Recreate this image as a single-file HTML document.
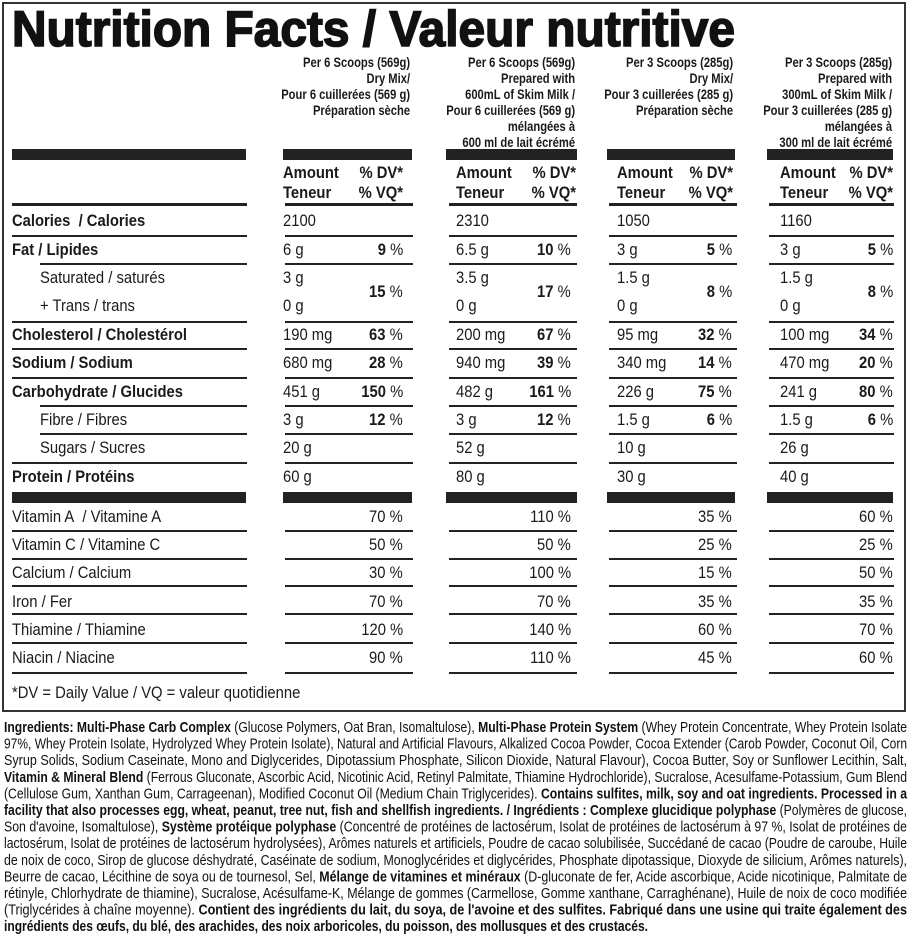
<!DOCTYPE html>
<html><head><meta charset="utf-8"><style>
html,body{margin:0;padding:0;background:#fff}
body{width:910px;height:946px;position:relative;overflow:hidden;font-family:"Liberation Sans",sans-serif;color:#1a1a1a}
.a,.v{position:absolute;white-space:nowrap;font-size:17px;line-height:20px;transform:scaleX(.87)}
.a{transform-origin:0 0}
.v{transform-origin:100% 0;text-align:right}
.b{font-weight:bold}
.s{font-size:14px;line-height:16px;font-weight:bold;transform:scaleX(.8)}
.h{position:absolute;height:2px;background:#222}
.k{position:absolute;height:11px;background:#222}
.w{position:absolute;height:3px;background:#222}
</style></head><body>
<div style="position:absolute;left:2px;top:2px;width:900px;height:706px;border:2px solid #333"></div>
<svg width="910" height="946" style="position:absolute;left:0;top:0">
<text x="12" y="46" font-family="Liberation Sans" font-weight="bold" font-size="50" textLength="723" lengthAdjust="spacingAndGlyphs" fill="#111" stroke="#111" stroke-width="1.6">Nutrition Facts / Valeur nutritive</text>
<g font-family="Liberation Sans" font-size="15" fill="#111">
<text x="4" y="732" textLength="903" lengthAdjust="spacingAndGlyphs"><tspan font-weight="bold">Ingredients: Multi-Phase Carb Complex</tspan> (Glucose Polymers, Oat Bran, Isomaltulose), <tspan font-weight="bold">Multi-Phase Protein System</tspan> (Whey Protein Concentrate, Whey Protein Isolate</text>
<text x="4" y="748.6" textLength="903" lengthAdjust="spacingAndGlyphs">97%, Whey Protein Isolate, Hydrolyzed Whey Protein Isolate), Natural and Artificial Flavours, Alkalized Cocoa Powder, Cocoa Extender (Carob Powder, Coconut Oil, Corn</text>
<text x="4" y="765.2" textLength="903" lengthAdjust="spacingAndGlyphs">Syrup Solids, Sodium Caseinate, Mono and Diglycerides, Dipotassium Phosphate, Silicon Dioxide, Natural Flavour), Cocoa Butter, Soy or Sunflower Lecithin, Salt,</text>
<text x="4" y="781.8" textLength="903" lengthAdjust="spacingAndGlyphs"><tspan font-weight="bold">Vitamin &amp; Mineral Blend</tspan> (Ferrous Gluconate, Ascorbic Acid, Nicotinic Acid, Retinyl Palmitate, Thiamine Hydrochloride), Sucralose, Acesulfame-Potassium, Gum Blend</text>
<text x="4" y="798.4" textLength="903" lengthAdjust="spacingAndGlyphs">(Cellulose Gum, Xanthan Gum, Carrageenan), Modified Coconut Oil (Medium Chain Triglycerides). <tspan font-weight="bold">Contains sulfites, milk, soy and oat ingredients. Processed in a</tspan></text>
<text x="4" y="815" textLength="903" lengthAdjust="spacingAndGlyphs"><tspan font-weight="bold">facility that also processes egg, wheat, peanut, tree nut, fish and shellfish ingredients. / Ingrédients : Complexe glucidique polyphase</tspan> (Polymères de glucose,</text>
<text x="4" y="831.6" textLength="903" lengthAdjust="spacingAndGlyphs">Son d'avoine, Isomaltulose), <tspan font-weight="bold">Système protéique polyphase</tspan> (Concentré de protéines de lactosérum, Isolat de protéines de lactosérum à 97 %, Isolat de protéines de</text>
<text x="4" y="848.2" textLength="903" lengthAdjust="spacingAndGlyphs">lactosérum, Isolat de protéines de lactosérum hydrolysées), Arômes naturels et artificiels, Poudre de cacao solubilisée, Succédané de cacao (Poudre de caroube, Huile</text>
<text x="4" y="864.8" textLength="903" lengthAdjust="spacingAndGlyphs">de noix de coco, Sirop de glucose déshydraté, Caséinate de sodium, Monoglycérides et diglycérides, Phosphate dipotassique, Dioxyde de silicium, Arômes naturels),</text>
<text x="4" y="881.4" textLength="903" lengthAdjust="spacingAndGlyphs">Beurre de cacao, Lécithine de soya ou de tournesol, Sel, <tspan font-weight="bold">Mélange de vitamines et minéraux</tspan> (D-gluconate de fer, Acide ascorbique, Acide nicotinique, Palmitate de</text>
<text x="4" y="898" textLength="903" lengthAdjust="spacingAndGlyphs">rétinyle, Chlorhydrate de thiamine), Sucralose, Acésulfame-K, Mélange de gommes (Carmellose, Gomme xanthane, Carraghénane), Huile de noix de coco modifiée</text>
<text x="4" y="914.6" textLength="903" lengthAdjust="spacingAndGlyphs">(Triglycérides à chaîne moyenne). <tspan font-weight="bold">Contient des ingrédients du lait, du soya, de l'avoine et des sulfites. Fabriqué dans une usine qui traite également des</tspan></text>
<text x="4" y="931.2" textLength="644" lengthAdjust="spacingAndGlyphs" font-weight="bold">ingrédients des œufs, du blé, des arachides, des noix arboricoles, du poisson, des mollusques et des crustacés.</text>
</g>
</svg>

<div class="v s" style="right:500px;top:54px">Per 6 Scoops (569g)<br>Dry Mix/<br>Pour 6 cuillerées (569 g)<br>Préparation sèche</div>
<div class="v s" style="right:335px;top:54px">Per 6 Scoops (569g)<br>Prepared with<br>600mL of Skim Milk /<br>Pour 6 cuillerées (569 g)<br>mélangées à<br>600 ml de lait écrémé</div>
<div class="v s" style="right:177px;top:54px">Per 3 Scoops (285g)<br>Dry Mix/<br>Pour 3 cuillerées (285 g)<br>Préparation sèche</div>
<div class="v s" style="right:18px;top:54px">Per 3 Scoops (285g)<br>Prepared with<br>300mL of Skim Milk /<br>Pour 3 cuillerées (285 g)<br>mélangées à<br>300 ml de lait écrémé</div>

<div class="k" style="left:12px;width:234px;top:149px"></div>
<div class="k" style="left:283px;width:129px;top:149px"></div>
<div class="k" style="left:446px;width:131px;top:149px"></div>
<div class="k" style="left:607px;width:128px;top:149px"></div>
<div class="k" style="left:767px;width:126px;top:149px"></div>
<div class="k" style="left:12px;width:234px;top:492px"></div>
<div class="k" style="left:283px;width:129px;top:492px"></div>
<div class="k" style="left:446px;width:131px;top:492px"></div>
<div class="k" style="left:607px;width:128px;top:492px"></div>
<div class="k" style="left:767px;width:126px;top:492px"></div>

<div class="a b" style="left:283px;top:163px">Amount<br>Teneur</div>
<div class="v b" style="right:507px;top:163px">% DV*<br>% VQ*</div>
<div class="a b" style="left:456px;top:163px">Amount<br>Teneur</div>
<div class="v b" style="right:334px;top:163px">% DV*<br>% VQ*</div>
<div class="a b" style="left:617px;top:163px">Amount<br>Teneur</div>
<div class="v b" style="right:177px;top:163px">% DV*<br>% VQ*</div>
<div class="a b" style="left:780px;top:163px">Amount<br>Teneur</div>
<div class="v b" style="right:17px;top:163px">% DV*<br>% VQ*</div>
<div class="w" style="left:12px;width:235px;top:203px"></div>
<div class="w" style="left:285px;width:128px;top:203px"></div>
<div class="w" style="left:449px;width:128px;top:203px"></div>
<div class="w" style="left:609px;width:128px;top:203px"></div>
<div class="w" style="left:769px;width:125px;top:203px"></div>

<div class="a b" style="left:12px;top:211px">Calories&nbsp; / Calories</div>
<div class="a b" style="left:12px;top:240px">Fat / Lipides</div>
<div class="a" style="left:40px;top:268px">Saturated / saturés</div>
<div class="a" style="left:40px;top:296px">+ Trans / trans</div>
<div class="a b" style="left:12px;top:325px">Cholesterol / Cholestérol</div>
<div class="a b" style="left:12px;top:353px">Sodium / Sodium</div>
<div class="a b" style="left:12px;top:382px">Carbohydrate / Glucides</div>
<div class="a" style="left:40px;top:410px">Fibre / Fibres</div>
<div class="a" style="left:40px;top:438px">Sugars / Sucres</div>
<div class="a b" style="left:12px;top:467px">Protein / Protéins</div>
<div class="a" style="left:12px;top:507px">Vitamin A&nbsp; / Vitamine A</div>
<div class="a" style="left:12px;top:535px">Vitamin C / Vitamine C</div>
<div class="a" style="left:12px;top:563px">Calcium / Calcium</div>
<div class="a" style="left:12px;top:592px">Iron / Fer</div>
<div class="a" style="left:12px;top:620px">Thiamine / Thiamine</div>
<div class="a" style="left:12px;top:648px">Niacin / Niacine</div>
<div class="a" style="left:12px;top:683px">*DV = Daily Value / VQ = valeur quotidienne</div>

<div class="h" style="left:12px;width:235px;top:235px"></div>
<div class="h" style="left:40px;width:207px;top:263px"></div>
<div class="h" style="left:12px;width:235px;top:321px"></div>
<div class="h" style="left:12px;width:235px;top:348px"></div>
<div class="h" style="left:12px;width:235px;top:377px"></div>
<div class="h" style="left:40px;width:207px;top:405px"></div>
<div class="h" style="left:40px;width:207px;top:433px"></div>
<div class="h" style="left:12px;width:235px;top:462px"></div>
<div class="h" style="left:12px;width:235px;top:530px"></div>
<div class="h" style="left:12px;width:235px;top:558px"></div>
<div class="h" style="left:12px;width:235px;top:585px"></div>
<div class="h" style="left:12px;width:235px;top:613px"></div>
<div class="h" style="left:12px;width:235px;top:642px"></div>
<div class="h" style="left:12px;width:235px;top:672px"></div>

<div class="h" style="left:285px;width:128px;top:235px"></div><div class="h" style="left:285px;width:128px;top:263px"></div><div class="h" style="left:285px;width:128px;top:321px"></div><div class="h" style="left:285px;width:128px;top:348px"></div><div class="h" style="left:285px;width:128px;top:377px"></div><div class="h" style="left:285px;width:128px;top:405px"></div><div class="h" style="left:285px;width:128px;top:433px"></div><div class="h" style="left:285px;width:128px;top:462px"></div>
<div class="h" style="left:285px;width:128px;top:530px"></div><div class="h" style="left:285px;width:128px;top:558px"></div><div class="h" style="left:285px;width:128px;top:585px"></div><div class="h" style="left:285px;width:128px;top:613px"></div><div class="h" style="left:285px;width:128px;top:642px"></div><div class="h" style="left:285px;width:128px;top:672px"></div>
<div class="h" style="left:449px;width:128px;top:235px"></div><div class="h" style="left:449px;width:128px;top:263px"></div><div class="h" style="left:449px;width:128px;top:321px"></div><div class="h" style="left:449px;width:128px;top:348px"></div><div class="h" style="left:449px;width:128px;top:377px"></div><div class="h" style="left:449px;width:128px;top:405px"></div><div class="h" style="left:449px;width:128px;top:433px"></div><div class="h" style="left:449px;width:128px;top:462px"></div>
<div class="h" style="left:449px;width:128px;top:530px"></div><div class="h" style="left:449px;width:128px;top:558px"></div><div class="h" style="left:449px;width:128px;top:585px"></div><div class="h" style="left:449px;width:128px;top:613px"></div><div class="h" style="left:449px;width:128px;top:642px"></div><div class="h" style="left:449px;width:128px;top:672px"></div>
<div class="h" style="left:609px;width:128px;top:235px"></div><div class="h" style="left:609px;width:128px;top:263px"></div><div class="h" style="left:609px;width:128px;top:321px"></div><div class="h" style="left:609px;width:128px;top:348px"></div><div class="h" style="left:609px;width:128px;top:377px"></div><div class="h" style="left:609px;width:128px;top:405px"></div><div class="h" style="left:609px;width:128px;top:433px"></div><div class="h" style="left:609px;width:128px;top:462px"></div>
<div class="h" style="left:609px;width:128px;top:530px"></div><div class="h" style="left:609px;width:128px;top:558px"></div><div class="h" style="left:609px;width:128px;top:585px"></div><div class="h" style="left:609px;width:128px;top:613px"></div><div class="h" style="left:609px;width:128px;top:642px"></div><div class="h" style="left:609px;width:128px;top:672px"></div>
<div class="h" style="left:769px;width:125px;top:235px"></div><div class="h" style="left:769px;width:125px;top:263px"></div><div class="h" style="left:769px;width:125px;top:321px"></div><div class="h" style="left:769px;width:125px;top:348px"></div><div class="h" style="left:769px;width:125px;top:377px"></div><div class="h" style="left:769px;width:125px;top:405px"></div><div class="h" style="left:769px;width:125px;top:433px"></div><div class="h" style="left:769px;width:125px;top:462px"></div>
<div class="h" style="left:769px;width:125px;top:530px"></div><div class="h" style="left:769px;width:125px;top:558px"></div><div class="h" style="left:769px;width:125px;top:585px"></div><div class="h" style="left:769px;width:125px;top:613px"></div><div class="h" style="left:769px;width:125px;top:642px"></div><div class="h" style="left:769px;width:125px;top:672px"></div>

<div class="a" style="left:283px;top:211px">2100</div>
<div class="a" style="left:283px;top:240px">6 g</div><div class="v" style="right:507px;top:240px"><b>9</b> %</div>
<div class="a" style="left:283px;top:268px">3 g</div><div class="v" style="right:507px;top:282px"><b>15</b> %</div>
<div class="a" style="left:283px;top:296px">0 g</div>
<div class="a" style="left:283px;top:325px">190 mg</div><div class="v" style="right:507px;top:325px"><b>63</b> %</div>
<div class="a" style="left:283px;top:353px">680 mg</div><div class="v" style="right:507px;top:353px"><b>28</b> %</div>
<div class="a" style="left:283px;top:382px">451 g</div><div class="v" style="right:507px;top:382px"><b>150</b> %</div>
<div class="a" style="left:283px;top:410px">3 g</div><div class="v" style="right:507px;top:410px"><b>12</b> %</div>
<div class="a" style="left:283px;top:438px">20 g</div>
<div class="a" style="left:283px;top:467px">60 g</div>
<div class="v" style="right:507px;top:507px">70 %</div><div class="v" style="right:507px;top:535px">50 %</div><div class="v" style="right:507px;top:563px">30 %</div><div class="v" style="right:507px;top:592px">70 %</div><div class="v" style="right:507px;top:620px">120 %</div><div class="v" style="right:507px;top:648px">90 %</div>

<div class="a" style="left:456px;top:211px">2310</div>
<div class="a" style="left:456px;top:240px">6.5 g</div><div class="v" style="right:339px;top:240px"><b>10</b> %</div>
<div class="a" style="left:456px;top:268px">3.5 g</div><div class="v" style="right:339px;top:282px"><b>17</b> %</div>
<div class="a" style="left:456px;top:296px">0 g</div>
<div class="a" style="left:456px;top:325px">200 mg</div><div class="v" style="right:339px;top:325px"><b>67</b> %</div>
<div class="a" style="left:456px;top:353px">940 mg</div><div class="v" style="right:339px;top:353px"><b>39</b> %</div>
<div class="a" style="left:456px;top:382px">482 g</div><div class="v" style="right:339px;top:382px"><b>161</b> %</div>
<div class="a" style="left:456px;top:410px">3 g</div><div class="v" style="right:339px;top:410px"><b>12</b> %</div>
<div class="a" style="left:456px;top:438px">52 g</div>
<div class="a" style="left:456px;top:467px">80 g</div>
<div class="v" style="right:339px;top:507px">110 %</div><div class="v" style="right:339px;top:535px">50 %</div><div class="v" style="right:339px;top:563px">100 %</div><div class="v" style="right:339px;top:592px">70 %</div><div class="v" style="right:339px;top:620px">140 %</div><div class="v" style="right:339px;top:648px">110 %</div>

<div class="a" style="left:617px;top:211px">1050</div>
<div class="a" style="left:617px;top:240px">3 g</div><div class="v" style="right:178px;top:240px"><b>5</b> %</div>
<div class="a" style="left:617px;top:268px">1.5 g</div><div class="v" style="right:178px;top:282px"><b>8</b> %</div>
<div class="a" style="left:617px;top:296px">0 g</div>
<div class="a" style="left:617px;top:325px">95 mg</div><div class="v" style="right:178px;top:325px"><b>32</b> %</div>
<div class="a" style="left:617px;top:353px">340 mg</div><div class="v" style="right:178px;top:353px"><b>14</b> %</div>
<div class="a" style="left:617px;top:382px">226 g</div><div class="v" style="right:178px;top:382px"><b>75</b> %</div>
<div class="a" style="left:617px;top:410px">1.5 g</div><div class="v" style="right:178px;top:410px"><b>6</b> %</div>
<div class="a" style="left:617px;top:438px">10 g</div>
<div class="a" style="left:617px;top:467px">30 g</div>
<div class="v" style="right:178px;top:507px">35 %</div><div class="v" style="right:178px;top:535px">25 %</div><div class="v" style="right:178px;top:563px">15 %</div><div class="v" style="right:178px;top:592px">35 %</div><div class="v" style="right:178px;top:620px">60 %</div><div class="v" style="right:178px;top:648px">45 %</div>

<div class="a" style="left:780px;top:211px">1160</div>
<div class="a" style="left:780px;top:240px">3 g</div><div class="v" style="right:17px;top:240px"><b>5</b> %</div>
<div class="a" style="left:780px;top:268px">1.5 g</div><div class="v" style="right:17px;top:282px"><b>8</b> %</div>
<div class="a" style="left:780px;top:296px">0 g</div>
<div class="a" style="left:780px;top:325px">100 mg</div><div class="v" style="right:17px;top:325px"><b>34</b> %</div>
<div class="a" style="left:780px;top:353px">470 mg</div><div class="v" style="right:17px;top:353px"><b>20</b> %</div>
<div class="a" style="left:780px;top:382px">241 g</div><div class="v" style="right:17px;top:382px"><b>80</b> %</div>
<div class="a" style="left:780px;top:410px">1.5 g</div><div class="v" style="right:17px;top:410px"><b>6</b> %</div>
<div class="a" style="left:780px;top:438px">26 g</div>
<div class="a" style="left:780px;top:467px">40 g</div>
<div class="v" style="right:17px;top:507px">60 %</div><div class="v" style="right:17px;top:535px">25 %</div><div class="v" style="right:17px;top:563px">50 %</div><div class="v" style="right:17px;top:592px">35 %</div><div class="v" style="right:17px;top:620px">70 %</div><div class="v" style="right:17px;top:648px">60 %</div>
</body></html>
